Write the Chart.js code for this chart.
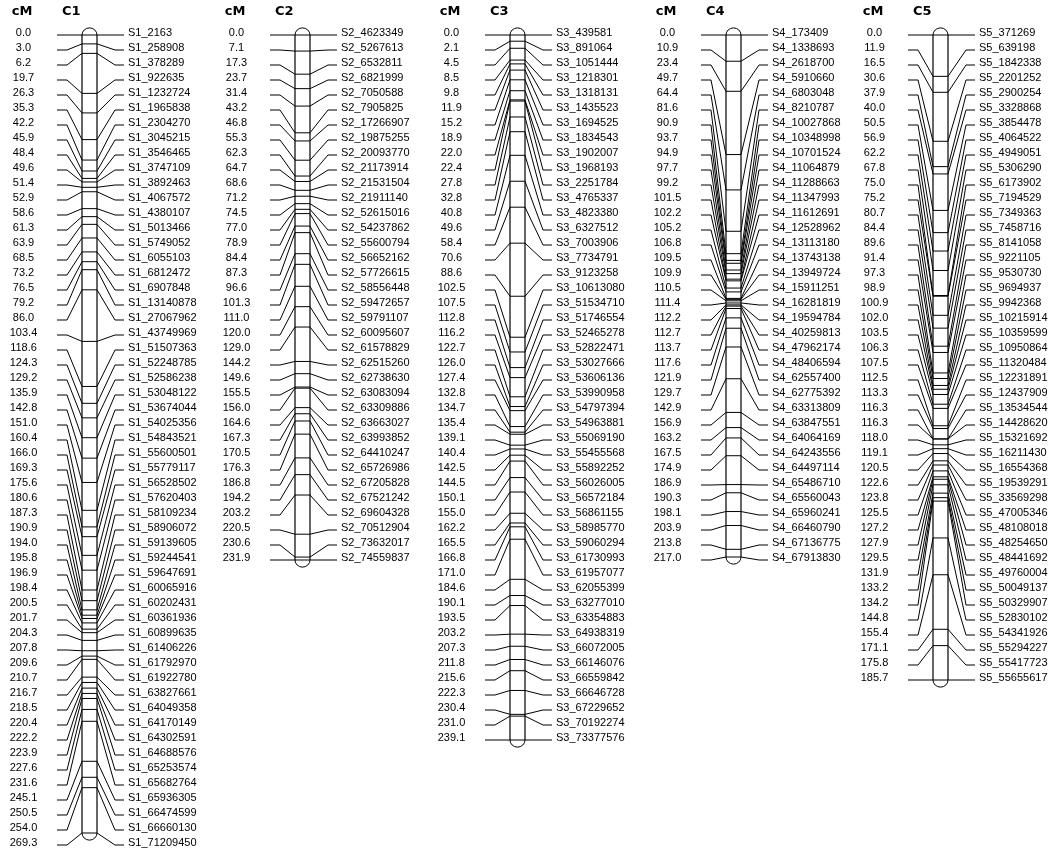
<!DOCTYPE html>
<html><head><meta charset="utf-8">
<script src="https://cdn.jsdelivr.net/npm/chart.js@4.4.1/dist/chart.umd.min.js"></script>
<style>html,body{margin:0;padding:0;background:#fff}canvas{display:block}</style>
</head><body>
<div style="width:1050px;height:856px;position:relative"><canvas id="c" width="1050" height="856"></canvas></div>
<script>
// ---------------- DATA ----------------
const chromosomeNames = ['C1','C2','C3','C4','C5'];

const c1Positions = [0.0,3.0,6.2,19.7,26.3,35.3,42.2,45.9,48.4,49.6,51.4,52.9,58.6,61.3,63.9,68.5,73.2,76.5,79.2,86.0,103.4,118.6,124.3,129.2,135.9,142.8,151.0,160.4,166.0,169.3,175.6,180.6,187.3,190.9,194.0,195.8,196.9,198.4,200.5,201.7,204.3,207.8,209.6,210.7,216.7,218.5,220.4,222.2,223.9,227.6,231.6,245.1,250.5,254.0,269.3];
const c1Markers = ['S1_2163','S1_258908','S1_378289','S1_922635','S1_1232724','S1_1965838','S1_2304270','S1_3045215','S1_3546465','S1_3747109','S1_3892463','S1_4067572','S1_4380107','S1_5013466','S1_5749052','S1_6055103','S1_6812472','S1_6907848','S1_13140878','S1_27067962','S1_43749969','S1_51507363','S1_52248785','S1_52586238','S1_53048122','S1_53674044','S1_54025356','S1_54843521','S1_55600501','S1_55779117','S1_56528502','S1_57620403','S1_58109234','S1_58906072','S1_59139605','S1_59244541','S1_59647691','S1_60065916','S1_60202431','S1_60361936','S1_60899635','S1_61406226','S1_61792970','S1_61922780','S1_63827661','S1_64049358','S1_64170149','S1_64302591','S1_64688576','S1_65253574','S1_65682764','S1_65936305','S1_66474599','S1_66660130','S1_71209450'];

const c2Positions = [0.0,7.1,17.3,23.7,31.4,43.2,46.8,55.3,62.3,64.7,68.6,71.2,74.5,77.0,78.9,84.4,87.3,96.6,101.3,111.0,120.0,129.0,144.2,149.6,155.5,156.0,164.6,167.3,170.5,176.3,186.8,194.2,203.2,220.5,230.6,231.9];
const c2Markers = ['S2_4623349','S2_5267613','S2_6532811','S2_6821999','S2_7050588','S2_7905825','S2_17266907','S2_19875255','S2_20093770','S2_21173914','S2_21531504','S2_21911140','S2_52615016','S2_54237862','S2_55600794','S2_56652162','S2_57726615','S2_58556448','S2_59472657','S2_59791107','S2_60095607','S2_61578829','S2_62515260','S2_62738630','S2_63083094','S2_63309886','S2_63663027','S2_63993852','S2_64410247','S2_65726986','S2_67205828','S2_67521242','S2_69604328','S2_70512904','S2_73632017','S2_74559837'];

const c3Positions = [0.0,2.1,4.5,8.5,9.8,11.9,15.2,18.9,22.0,22.4,27.8,32.8,40.8,49.6,58.4,70.6,88.6,102.5,107.5,112.8,116.2,122.7,126.0,127.4,132.8,134.7,135.4,139.1,140.4,142.5,144.5,150.1,155.0,162.2,165.5,166.8,171.0,184.6,190.1,193.5,203.2,207.3,211.8,215.6,222.3,230.4,231.0,239.1];
const c3Markers = ['S3_439581','S3_891064','S3_1051444','S3_1218301','S3_1318131','S3_1435523','S3_1694525','S3_1834543','S3_1902007','S3_1968193','S3_2251784','S3_4765337','S3_4823380','S3_6327512','S3_7003906','S3_7734791','S3_9123258','S3_10613080','S3_51534710','S3_51746554','S3_52465278','S3_52822471','S3_53027666','S3_53606136','S3_53990958','S3_54797394','S3_54963881','S3_55069190','S3_55455568','S3_55892252','S3_56026005','S3_56572184','S3_56861155','S3_58985770','S3_59060294','S3_61730993','S3_61957077','S3_62055399','S3_63277010','S3_63354883','S3_64938319','S3_66072005','S3_66146076','S3_66559842','S3_66646728','S3_67229652','S3_70192274','S3_73377576'];

const c4Positions = [0.0,10.9,23.4,49.7,64.4,81.6,90.9,93.7,94.9,97.7,99.2,101.5,102.2,105.2,106.8,109.5,109.9,110.5,111.4,112.2,112.7,113.7,117.6,121.9,129.7,142.9,156.9,163.2,167.5,174.9,186.9,190.3,198.1,203.9,213.8,217.0];
const c4Markers = ['S4_173409','S4_1338693','S4_2618700','S4_5910660','S4_6803048','S4_8210787','S4_10027868','S4_10348998','S4_10701524','S4_11064879','S4_11288663','S4_11347993','S4_11612691','S4_12528962','S4_13113180','S4_13743138','S4_13949724','S4_15911251','S4_16281819','S4_19594784','S4_40259813','S4_47962174','S4_48406594','S4_62557400','S4_62775392','S4_63313809','S4_63847551','S4_64064169','S4_64243556','S4_64497114','S4_65486710','S4_65560043','S4_65960241','S4_66460790','S4_67136775','S4_67913830'];

const c5Positions = [0.0,11.9,16.5,30.6,37.9,40.0,50.5,56.9,62.2,67.8,75.0,75.2,80.7,84.4,89.6,91.4,97.3,98.9,100.9,102.0,103.5,106.3,107.5,112.5,113.3,116.3,116.3,118.0,119.1,120.5,122.6,123.8,125.5,127.2,127.9,129.5,131.9,133.2,134.2,144.8,155.4,171.1,175.8,185.7];
const c5Markers = ['S5_371269','S5_639198','S5_1842338','S5_2201252','S5_2900254','S5_3328868','S5_3854478','S5_4064522','S5_4949051','S5_5306290','S5_6173902','S5_7194529','S5_7349363','S5_7458716','S5_8141058','S5_9221105','S5_9530730','S5_9694937','S5_9942368','S5_10215914','S5_10359599','S5_10950864','S5_11320484','S5_12231891','S5_12437909','S5_13534544','S5_14428620','S5_15321692','S5_16211430','S5_16554368','S5_19539291','S5_33569298','S5_47005346','S5_48108018','S5_48254650','S5_48441692','S5_49760004','S5_50049137','S5_50329907','S5_52830102','S5_54341926','S5_55294227','S5_55417723','S5_55655617'];

const allPositions = [c1Positions, c2Positions, c3Positions, c4Positions, c5Positions];
const allMarkers = [c1Markers, c2Markers, c3Markers, c4Markers, c5Markers];

// ---------------- LAYOUT ----------------
const W = 1050, H = 856;
const ROW_PX = 15, TOP_PX = 35;
const colOffsets = [0, 213, 428, 644, 851];
const barSpanPx = [798, 525, 705, 522, 645];
const G = {valueX: 23.5, lineStart: 57, leftBend: 67, barL: 82, barR: 97, rightBend: 115, lineEnd: 124, markerX: 128, headerX: 62, cmHeaderX: 22, headerY: 12};
const INK = '#000';

// ---------------- BUILD ----------------
const scales = {
  x: {type: 'linear', min: 0, max: W, display: false},
  yRow: {type: 'linear', axis: 'y', reverse: true, min: -TOP_PX / ROW_PX, max: (H - TOP_PX) / ROW_PX, display: false}
};
const datasets = [];
allPositions.forEach((pos, k) => {
  const len = pos[pos.length - 1];
  const ppc = barSpanPx[k] / len;
  const id = 'y' + (k + 1);
  scales[id] = {type: 'linear', axis: 'y', reverse: true, min: -TOP_PX / ppc, max: (H - TOP_PX) / ppc, display: false};
  const off = colOffsets[k];
  const rowVal = i => i * ROW_PX / ppc;   // label row expressed on this chromosome's cM axis
  // connectors
  const conn = [];
  pos.forEach((cm, i) => {
    const r = rowVal(i);
    conn.push({x: off + G.lineStart, y: r}, {x: off + G.leftBend, y: r}, {x: off + G.barL, y: cm}, {x: off + G.barL, y: null});
    conn.push({x: off + G.barR, y: cm}, {x: off + G.rightBend, y: r}, {x: off + G.lineEnd, y: r}, {x: off + G.lineEnd, y: null});
  });
  datasets.push({label: chromosomeNames[k] + ' links', yAxisID: id, data: conn, showLine: true, spanGaps: false,
    borderColor: INK, borderWidth: 1, pointRadius: 0, tension: 0, clip: false});
  // chromosome body edges
  datasets.push({label: chromosomeNames[k] + ' body', yAxisID: id,
    data: [{x: off + G.barL, y: 0}, {x: off + G.barL, y: len}, {x: off + G.barL, y: null}, {x: off + G.barR, y: 0}, {x: off + G.barR, y: len}],
    showLine: true, spanGaps: false, borderColor: INK, borderWidth: 1.2, pointRadius: 0, clip: false});
  // marker ticks
  datasets.push({label: chromosomeNames[k] + ' markers', yAxisID: id,
    data: pos.map(cm => ({x: off + (G.barL + G.barR) / 2, y: cm})),
    showLine: false, pointStyle: 'line', pointRadius: (G.barR - G.barL) / 2, pointBorderWidth: 1,
    pointBorderColor: INK, pointBackgroundColor: INK, clip: false});
});

const decor = {
  id: 'decor',
  afterDatasetsDraw(chart) {
    const ctx = chart.ctx, sx = chart.scales.x, sr = chart.scales.yRow;
    ctx.save();
    ctx.strokeStyle = INK; ctx.lineWidth = 1;
    allPositions.forEach((pos, k) => {
      const sy = chart.scales['y' + (k + 1)];
      const off = colOffsets[k];
      const xc = sx.getPixelForValue(off + (G.barL + G.barR) / 2);
      const r = (sx.getPixelForValue(off + G.barR) - sx.getPixelForValue(off + G.barL)) / 2;
      const yt = sy.getPixelForValue(0), yb = sy.getPixelForValue(pos[pos.length - 1]);
      ctx.beginPath(); ctx.ellipse(xc, yt, r, r * 0.95, 0, Math.PI, 2 * Math.PI); ctx.stroke();
      ctx.beginPath(); ctx.ellipse(xc, yb, r, r * 0.95, 0, 0, Math.PI); ctx.stroke();
    });
    // texts
    ctx.fillStyle = INK;
    ctx.textBaseline = 'middle';
    allPositions.forEach((pos, k) => {
      const off = colOffsets[k];
      ctx.font = 'bold 13px "DejaVu Sans", sans-serif';
      ctx.textAlign = 'center';
      ctx.fillText('cM', sx.getPixelForValue(off + G.cmHeaderX), G.headerY);
      ctx.textAlign = 'left';
      ctx.fillText(chromosomeNames[k], sx.getPixelForValue(off + G.headerX), G.headerY);
      ctx.font = '11px "Liberation Sans", Arial, sans-serif';
      pos.forEach((cm, i) => {
        const y = sr.getPixelForValue(i) - 2;
        ctx.textAlign = 'center';
        ctx.fillText(cm.toFixed(1), sx.getPixelForValue(off + G.valueX), y);
        ctx.textAlign = 'left';
        ctx.fillText(allMarkers[k][i], sx.getPixelForValue(off + G.markerX), y);
      });
    });
    ctx.restore();
  }
};

new Chart(document.getElementById('c'), {
  type: 'scatter',
  data: {datasets},
  options: {
    responsive: false, animation: false, events: [],
    layout: {padding: 0, autoPadding: false},
    scales,
    plugins: {legend: {display: false}, tooltip: {enabled: false}, title: {display: false}}
  },
  plugins: [decor, {id: 'bg', beforeDraw(c) { c.ctx.save(); c.ctx.fillStyle = '#fff'; c.ctx.fillRect(0, 0, c.width, c.height); c.ctx.restore(); }}]
});
</script>
</body></html>
